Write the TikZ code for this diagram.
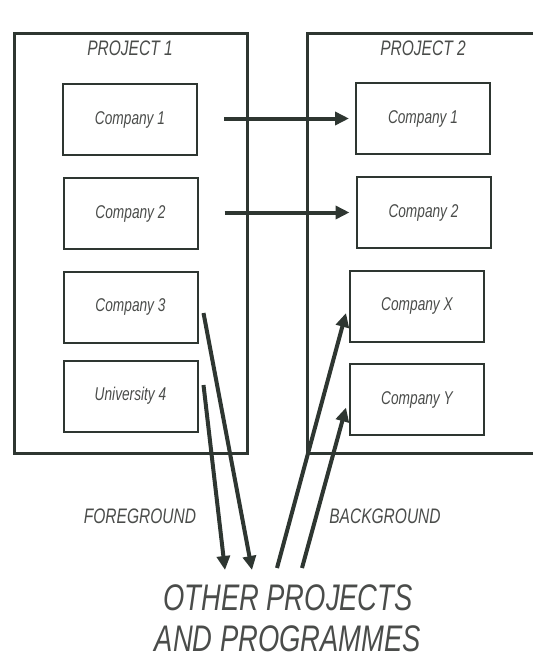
\documentclass[tikz,border=0pt]{standalone}
\usepackage{fontspec}
\newfontfamily\cf[FakeStretch=0.74]{Liberation Sans}
\usetikzlibrary{arrows.meta}
\definecolor{ln}{HTML}{2E3631}
\definecolor{tx}{HTML}{4A4C4A}
\tikzset{
  outerbox/.style={draw=ln, line width=3pt, minimum width=233pt, minimum height=420pt, inner sep=0pt},
  innerbox/.style={draw=ln, line width=2pt, minimum width=134pt, minimum height=71pt, inner sep=0pt,
    text=tx, font=\cf\itshape\fontsize{18.5}{20}\selectfont},
  lbl/.style={text=tx, inner sep=0pt, font=\cf\itshape\fontsize{21}{24}\selectfont},
  arr/.style={draw=ln, line width=4pt, -{Triangle[length=14pt,width=13pt]}},
}
\begin{document}
\begin{tikzpicture}[x=1pt,y=-1pt]
\useasboundingbox (0,0) rectangle (533,659);
% outer project boxes
\node[outerbox] (p1) at (130.5,243) {};
\node[outerbox] (p2) at (423.5,243) {};
\node[lbl] (t1) at (130,48) {PROJECT 1};
\node[lbl] (t2) at (423,48) {PROJECT 2};
% left boxes
\node[innerbox] (c1) at (130,119.5) {Company 1};
\node[innerbox] (c2) at (130.5,213.5) {Company 2};
\node[innerbox] (c3) at (130.5,307) {Company 3};
\node[innerbox] (u4) at (130.5,396) {University 4};
% right boxes
\node[innerbox] (r1) at (423,118.5) {Company 1};
\node[innerbox] (r2) at (423.5,212.5) {Company 2};
\node[innerbox] (rx) at (417,306) {Company X};
\node[innerbox] (ry) at (417,399.5) {Company Y};
% bottom labels
\node[lbl] (fg) at (140,516) {FOREGROUND};
\node[lbl] (bg) at (385,516) {BACKGROUND};
\node[text=tx, inner sep=0pt, align=center, font=\cf\itshape\fontsize{37}{41}\selectfont] (other) at (288,618) {OTHER PROJECTS\\AND PROGRAMMES};
% coordinates at the bottom
\coordinate (ob) at (225,570);
\coordinate (oa) at (252,570);
\coordinate (oc) at (277,568);
\coordinate (od) at (302,568);
% horizontal arrows
\draw[arr] ([xshift=26pt]c1.east |- r1.east) -- ([xshift=-6pt]r1.west);
\draw[arr] ([xshift=26pt]c2.east |- r2.east) -- ([xshift=-6pt]r2.west);
% diagonal arrows
\draw[arr] ([xshift=5pt,yshift=-6pt]c3.east) -- (oa);
\draw[arr] ([xshift=5pt,yshift=11pt]u4.east) -- (ob);
\draw[arr] (oc) -- ([xshift=-3pt,yshift=-7pt]rx.west);
\draw[arr] (od) -- ([xshift=-3pt,yshift=-8pt]ry.west);
\end{tikzpicture}
\end{document}
